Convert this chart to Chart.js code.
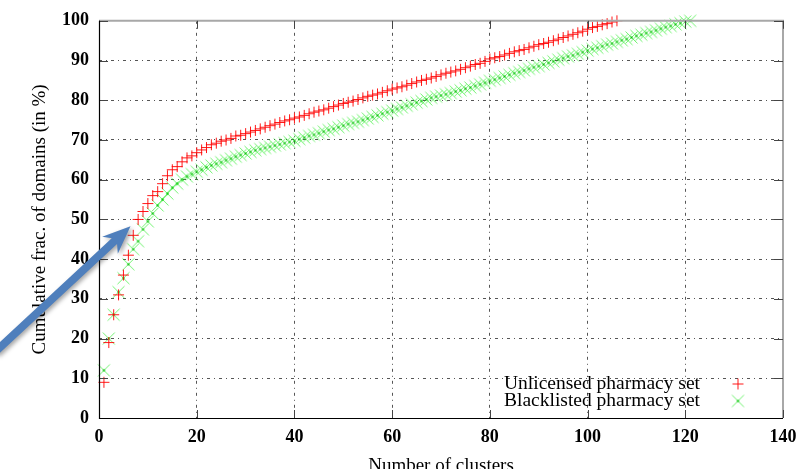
<!DOCTYPE html>
<html><head><meta charset="utf-8">
<script src="https://cdn.jsdelivr.net/npm/chart.js@4/dist/chart.umd.min.js"></script>
<style>html,body{margin:0;padding:0;background:#fff;}canvas{display:block;}</style>
</head><body>
<canvas id="c" width="809" height="469"></canvas>
<script>
const xTicks = [0, 20, 40, 60, 80, 100, 120, 140];
const yTicks = [0, 10, 20, 30, 40, 50, 60, 70, 80, 90, 100];
const seriesNames = ['Unlicensed pharmacy set', 'Blacklisted pharmacy set'];
const xTitle = 'Number of clusters';
const yTitle = 'Cumulative frac. of domains (in %)';

// cumulative % of domains after the n-th cluster (n = 1, 2, ...)
const unlicensed = [
  9, 19, 26, 31, 36, 41, 46, 50, 52, 54,
  56, 57, 59, 61, 62.5, 63.3, 64.5, 65.5, 66, 66.8,
  67.5, 68.1, 68.8, 69.2, 69.7, 70, 70.4, 71, 71.2, 71.6,
  72, 72.4, 72.8, 73.2, 73.6, 74, 74.4, 74.8, 75.1, 75.5,
  75.8, 76.2, 76.6, 77, 77.3, 77.6, 78, 78.4, 78.8, 79.2,
  79.5, 79.8, 80.2, 80.6, 81, 81.3, 81.6, 82, 82.4, 82.8,
  83.1, 83.4, 83.8, 84.2, 84.6, 85, 85.3, 85.6, 86, 86.4,
  86.8, 87.1, 87.4, 87.8, 88.2, 88.6, 89, 89.3, 89.8, 90.4,
  90.7, 91, 91.4, 91.8, 92.2, 92.5, 92.8, 93.2, 93.6, 94,
  94.3, 94.6, 95, 95.4, 95.8, 96.2, 96.6, 97, 97.4, 97.9,
  98.3, 98.6, 99, 99.3, 99.7, 100
];
const blacklisted = [
  12, 20, 26, 31.7, 35.2, 38.7, 42.5, 44.5, 47.5, 49.5,
  51.5, 53.5, 55, 56.5, 58, 59, 60, 60.8, 61.4, 62,
  62.5, 63.1, 63.6, 64, 64.4, 64.9, 65.3, 65.8, 66.2, 66.6,
  67, 67.4, 67.7, 68, 68.3, 68.6, 68.9, 69.2, 69.5, 69.8,
  70.2, 70.6, 71, 71.3, 71.7, 72.1, 72.5, 72.8, 73.2, 73.6,
  74, 74.3, 74.6, 75, 75.4, 75.8, 76.2, 76.6, 77, 77.4,
  77.8, 78.2, 78.6, 79, 79.4, 79.8, 80.2, 80.6, 80.9, 81.2,
  81.5, 81.8, 82.2, 82.5, 82.9, 83.2, 83.6, 84, 84.4, 84.9,
  85.2, 85.6, 86, 86.4, 86.8, 87.1, 87.5, 87.9, 88.3, 88.6,
  89, 89.4, 89.8, 90.2, 90.6, 91, 91.3, 91.7, 92.1, 92.5,
  92.9, 93.2, 93.6, 94, 94.3, 94.7, 95.1, 95.4, 95.8, 96.2,
  96.5, 96.9, 97.2, 97.6, 98, 98.4, 98.7, 99.1, 99.4, 99.8,
  100
];

const SERIF = '"Liberation Serif", "DejaVu Serif", "Times New Roman", serif';

function makeMarker(kind) {
  const s = 15, c = document.createElement('canvas');
  c.width = s; c.height = s;
  const g = c.getContext('2d');
  g.lineWidth = 1;
  if (kind === 'plus') {
    g.strokeStyle = 'rgba(255,0,0,0.9)';
    g.beginPath();
    g.moveTo(2, 7.5); g.lineTo(13, 7.5);
    g.moveTo(7.5, 2); g.lineTo(7.5, 13);
    g.stroke();
  } else {
    g.strokeStyle = 'rgba(20,235,20,0.6)';
    g.beginPath();
    g.moveTo(1.5, 1.5); g.lineTo(13.5, 13.5);
    g.moveTo(13.5, 1.5); g.lineTo(1.5, 13.5);
    g.stroke();
    g.fillStyle = 'rgba(0,190,0,0.95)';
    g.fillRect(6.5, 6.5, 2, 2);
  }
  return c;
}
const plusMarker = makeMarker('plus');
const xMarker = makeMarker('x');

const toPoints = arr => arr.map((v, i) => ({ x: i + 1, y: v }));

const framePlugin = {
  id: 'frame',
  afterDatasetsDraw(chart) {
    const { ctx, chartArea: a, scales: { x, y } } = chart;
    ctx.save();
    ctx.strokeStyle = '#a8a8a8';
    ctx.lineWidth = 2;
    ctx.beginPath();
    ctx.moveTo(a.left, a.top); ctx.lineTo(a.right, a.top); ctx.lineTo(a.right, a.bottom);
    ctx.stroke();
    ctx.lineWidth = 1;
    ctx.strokeStyle = '#444';
    ctx.beginPath();
    yTicks.forEach(v => {
      const py = Math.round(y.getPixelForValue(v)) + 0.5;
      ctx.moveTo(a.left, py); ctx.lineTo(a.left + 9, py);
      ctx.moveTo(a.right, py); ctx.lineTo(a.right - 9, py);
    });
    xTicks.forEach(v => {
      const px = Math.round(x.getPixelForValue(v)) + 0.5;
      ctx.moveTo(px, a.bottom); ctx.lineTo(px, a.bottom - 8);
      ctx.moveTo(px, a.top); ctx.lineTo(px, a.top + 8);
    });
    ctx.stroke();
    ctx.strokeStyle = '#000';
    ctx.lineWidth = 1.2;
    ctx.beginPath();
    ctx.moveTo(a.left + 0.5, a.top); ctx.lineTo(a.left + 0.5, a.bottom + 0.5); ctx.lineTo(a.right, a.bottom + 0.5);
    ctx.stroke();
    ctx.restore();
  },
  afterDraw(chart) {
    const { ctx, scales: { x, y } } = chart;
    ctx.save();
    ctx.font = '19.5px ' + SERIF;
    ctx.fillStyle = '#000';
    ctx.textAlign = 'right';
    ctx.textBaseline = 'middle';
    const lx = 700, mx = 738;
    const rows = [384, 401];
    ctx.fillText(seriesNames[0], lx, rows[0]);
    ctx.fillText(seriesNames[1], lx, rows[1]);
    ctx.drawImage(plusMarker, mx - 7.5, rows[0] - 7.5);
    ctx.drawImage(xMarker, mx - 7.5, rows[1] - 7.5);

    const tx = x.getPixelForValue(6.45), ty = y.getPixelForValue(48.3);
    const sx = x.getPixelForValue(-21.3), sy = y.getPixelForValue(16.6);
    const dx = tx - sx, dy = ty - sy, L = Math.hypot(dx, dy);
    const ux = dx / L, uy = dy / L, nx = -uy, ny = ux;
    const hl = 24, hw = 11.5, sw = 3.9;
    const bx = tx - ux * hl, by = ty - uy * hl;
    ctx.shadowColor = 'rgba(0,0,0,0.35)';
    ctx.shadowBlur = 4;
    ctx.shadowOffsetX = 2;
    ctx.shadowOffsetY = 2;
    ctx.fillStyle = '#4F7FBC';
    ctx.beginPath();
    ctx.moveTo(sx + nx * sw, sy + ny * sw);
    ctx.lineTo(bx + ux * 2 + nx * sw, by + uy * 2 + ny * sw);
    ctx.lineTo(bx - ux * 4 + nx * hw, by - uy * 4 + ny * hw);
    ctx.lineTo(tx, ty);
    ctx.lineTo(bx - ux * 4 - nx * hw, by - uy * 4 - ny * hw);
    ctx.lineTo(bx + ux * 2 - nx * sw, by + uy * 2 - ny * sw);
    ctx.lineTo(sx - nx * sw, sy - ny * sw);
    ctx.closePath();
    ctx.fill();
    ctx.restore();
  }
};

const gridColor = ctx => (ctx.tick && (ctx.index === 0 || ctx.tick.value === ctx.scale.max)) ? 'rgba(0,0,0,0)' : '#555';

new Chart(document.getElementById('c'), {
  type: 'scatter',
  data: {
    datasets: [
      { label: seriesNames[0], data: toPoints(unlicensed), pointStyle: plusMarker, pointRadius: 6, showLine: false, clip: 8 },
      { label: seriesNames[1], data: toPoints(blacklisted), pointStyle: xMarker, pointRadius: 6, showLine: false, clip: 8 }
    ]
  },
  options: {
    responsive: false,
    animation: false,
    events: [],
    layout: { padding: { left: 0, right: 26, top: 15, bottom: 0 } },
    plugins: { legend: { display: false }, tooltip: { enabled: false } },
    scales: {
      x: {
        type: 'linear', min: 0, max: 140,
        afterBuildTicks: s => { s.ticks = xTicks.map(v => ({ value: v })); },
        afterFit: s => { s.height = 51; },
        grid: { color: gridColor, lineWidth: 1, drawTicks: false },
        border: { display: false, dash: [3, 4, 1, 4] },
        ticks: { color: '#000', padding: 9, font: { family: SERIF, size: 18, weight: 'bold' } },
        title: { display: true, text: xTitle, color: '#000', font: { family: SERIF, size: 19 }, padding: { top: 0, bottom: -8 } }
      },
      y: {
        type: 'linear', min: 0, max: 100,
        afterBuildTicks: s => { s.ticks = yTicks.map(v => ({ value: v })); },
        afterFit: s => { s.width = 99; },
        grid: { color: gridColor, lineWidth: 1, drawTicks: false },
        border: { display: false, dash: [3, 4, 1, 4] },
        ticks: { color: '#000', padding: 10, font: { family: SERIF, size: 18, weight: 'bold' } },
        title: { display: true, text: yTitle, color: '#000', font: { family: SERIF, size: 19 }, padding: { top: 29, bottom: 0 } }
      }
    }
  },
  plugins: [framePlugin]
});
</script>
</body></html>
